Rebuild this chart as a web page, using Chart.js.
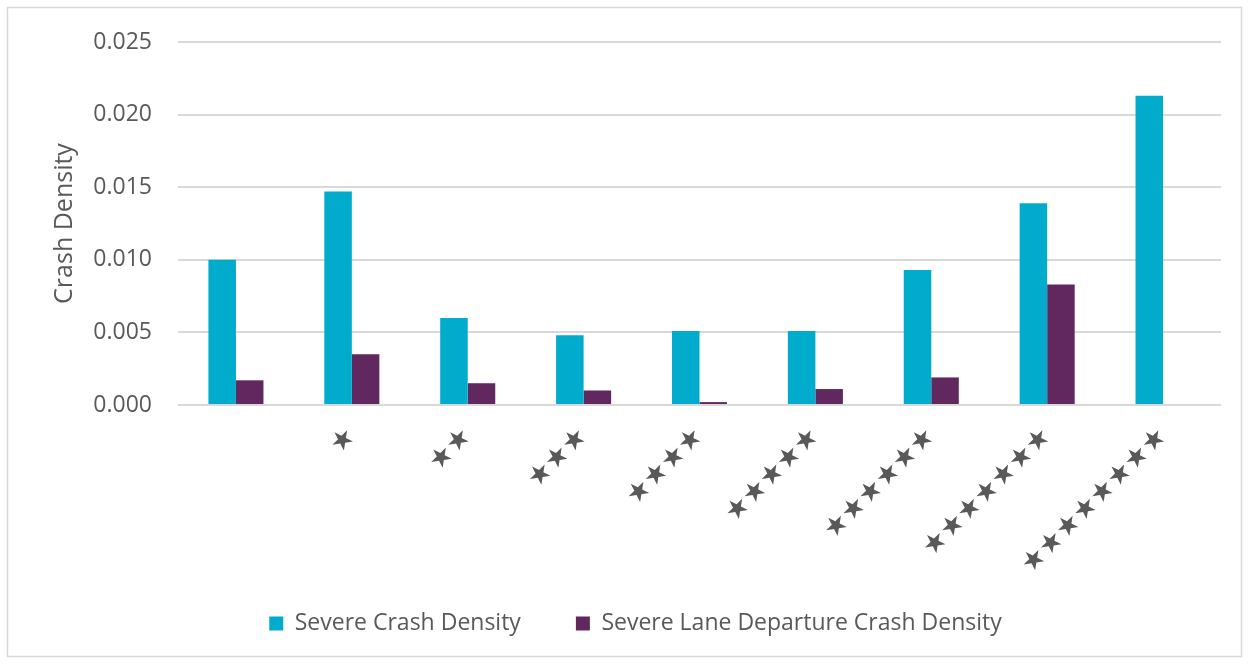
<!DOCTYPE html>
<html>
<head>
<meta charset="utf-8">
<script src="https://cdn.jsdelivr.net/npm/chart.js@4/dist/chart.umd.min.js"></script>
<style>
  html, body { margin: 0; padding: 0; background: #fff; }
  canvas { display: block; }
</style>
</head>
<body>
<canvas id="crashChart" width="1249" height="664"></canvas>
<script>
// star ratings, 0 to 8 stars
const starCounts = [0, 1, 2, 3, 4, 5, 6, 7, 8];
const tickLabels = starCounts.map(n => '\u2605'.repeat(n));

const severeDensity = [0.0100, 0.0147, 0.0060, 0.0048, 0.0051, 0.0051, 0.0093, 0.0139, 0.0213];
const laneDepartureDensity = [0.0017, 0.0035, 0.0015, 0.0010, 0.0002, 0.0011, 0.0019, 0.0083, 0.0];
const yTicks = [0, 0.005, 0.010, 0.015, 0.020, 0.025];

const GRAY_TEXT = '#595959';
const GRID = '#d9d9d9';
const FONT = 'Open Sans';

// outer chart frame
const frame = {
  id: 'frame',
  beforeDraw(chart) {
    const c = chart.ctx;
    c.save();
    c.strokeStyle = GRID;
    c.lineWidth = 1.5;
    c.strokeRect(7.5, 7.5, 1234, 649);
    c.restore();
  }
};

// give the rotated star labels room, then pull the legend row back up
const legendSpot = {
  id: 'legendSpot',
  beforeInit(chart) {
    const legend = chart.legend;
    if (!legend) return;
    const fit = legend.fit;
    legend.fit = function () {
      fit.call(this);
      this.height = 89;
    };
  },
  afterLayout(chart) {
    if (chart.legend) chart.legend.top = 557;
  }
};

new Chart(document.getElementById('crashChart'), {
  type: 'bar',
  data: {
    labels: tickLabels,
    datasets: [
      { label: 'Severe Crash Density', data: severeDensity, backgroundColor: '#00abcc',
        categoryPercentage: 0.475, barPercentage: 1 },
      { label: 'Severe Lane Departure Crash Density', data: laneDepartureDensity, backgroundColor: '#61285f',
        categoryPercentage: 0.475, barPercentage: 1 }
    ]
  },
  options: {
    responsive: false,
    animation: false,
    layout: { padding: { top: 42, right: 28, bottom: 0, left: 50 } },
    scales: {
      x: {
        grid: { display: false },
        border: { display: false },
        ticks: {
          autoSkip: false, minRotation: 45, maxRotation: 45, padding: 8,
          color: GRAY_TEXT, font: { family: 'DejaVu Sans', size: 27 }
        },
        afterFit(scale) { scale.height = 170; }
      },
      y: {
        min: 0, max: 0.025,
        afterBuildTicks(scale) { scale.ticks = yTicks.map(v => ({ value: v })); },
        grid: { color: GRID, lineWidth: 2, drawTicks: false },
        border: { display: false },
        ticks: {
          padding: 26, color: GRAY_TEXT, font: { family: FONT, size: 23 },
          callback: v => v.toFixed(3)
        },
        title: {
          display: true, text: 'Crash Density', color: GRAY_TEXT,
          font: { family: FONT, size: 25 }, padding: { top: 0, bottom: 0 }
        },
        afterFit(scale) { scale.width = 128; }
      }
    },
    plugins: {
      legend: {
        position: 'bottom',
        labels: {
          boxWidth: 14, boxHeight: 14, padding: 55,
          color: GRAY_TEXT, font: { family: FONT, size: 23 }
        }
      },
      tooltip: { enabled: false }
    }
  },
  plugins: [frame, legendSpot]
});
</script>
</body>
</html>
